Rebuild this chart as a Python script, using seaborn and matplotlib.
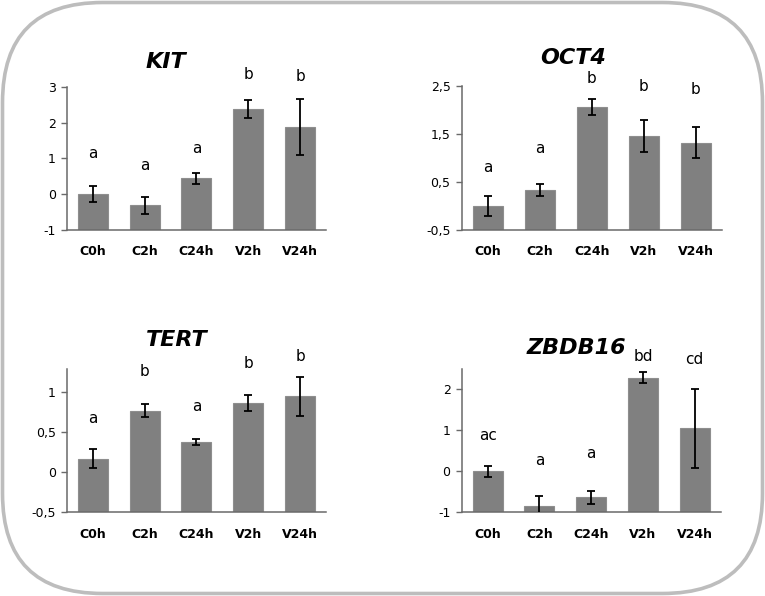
import matplotlib
matplotlib.use("Agg")
import matplotlib.pyplot as plt
import seaborn as sns
import pandas as pd
import numpy as np
from matplotlib.patches import FancyBboxPatch, Rectangle

sns.set_theme(style="white")
plt.rcParams['font.family'] = ['DejaVu Sans']

categories = ["C0h", "C2h", "C24h", "V2h", "V24h"]

kit_values = [0.0, -0.31, 0.44, 2.37, 1.88]
kit_errors = [0.23, 0.23, 0.16, 0.25, 0.78]
kit_letters = ["a", "a", "a", "b", "b"]
kit_letter_y = [1.15, 0.80, 1.28, 3.35, 3.28]

oct4_values = [0.0, 0.33, 2.06, 1.46, 1.32]
oct4_errors = [0.20, 0.12, 0.16, 0.33, 0.32]
oct4_letters = ["a", "a", "b", "b", "b"]
oct4_letter_y = [0.81, 1.20, 2.66, 2.50, 2.42]

tert_values = [0.17, 0.77, 0.38, 0.87, 0.95]
tert_errors = [0.12, 0.08, 0.04, 0.10, 0.24]
tert_letters = ["a", "b", "a", "b", "b"]
tert_letter_y = [0.67, 1.26, 0.82, 1.36, 1.45]

zbdb_values = [0.0, -0.84, -0.63, 2.28, 1.04]
zbdb_errors = [0.13, 0.24, 0.16, 0.13, 0.97]
zbdb_letters = ["ac", "a", "a", "bd", "cd"]
zbdb_letter_y = [0.86, 0.26, 0.42, 2.80, 2.73]

panels = [
    dict(title="KIT", vals=kit_values, errs=kit_errors, letters=kit_letters, ly=kit_letter_y,
         ylim=(-1, 3), ticks=[-1, 0, 1, 2, 3], labels=["-1", "0", "1", "2", "3"],
         rect=[0.0876, 0.614, 0.3384, 0.2405], tpos=(0.2166, 0.8965)),
    dict(title="OCT4", vals=oct4_values, errs=oct4_errors, letters=oct4_letters, ly=oct4_letter_y,
         ylim=(-0.5, 2.5), ticks=[-0.5, 0.5, 1.5, 2.5], labels=["-0,5", "0,5", "1,5", "2,5"],
         rect=[0.6035, 0.614, 0.3399, 0.2417], tpos=(0.749, 0.902)),
    dict(title="TERT", vals=tert_values, errs=tert_errors, letters=tert_letters, ly=tert_letter_y,
         ylim=(-0.5, 1.29), ticks=[-0.5, 0, 0.5, 1], labels=["-0,5", "0", "0,5", "1"],
         rect=[0.0876, 0.1404, 0.3384, 0.24], tpos=(0.231, 0.4295)),
    dict(title="ZBDB16", vals=zbdb_values, errs=zbdb_errors, letters=zbdb_letters, ly=zbdb_letter_y,
         ylim=(-1, 2.48), ticks=[-1, 0, 1, 2], labels=["-1", "0", "1", "2"],
         rect=[0.6035, 0.1404, 0.3385, 0.24], tpos=(0.7539, 0.4156)),
]

fig = plt.figure(figsize=(7.65, 5.96), dpi=100)
fig.patch.set_facecolor("white")

border = FancyBboxPatch((0.025, 0.025), 7.60, 5.91,
                        boxstyle="round,pad=0,rounding_size=1.0",
                        transform=fig.dpi_scale_trans, facecolor="none",
                        edgecolor="#bdbdbd", linewidth=2.6, zorder=-1)
fig.patches.append(border)

axis_color = "#6a6a6a"
for p in panels:
    ax = fig.add_axes(p["rect"])
    ax.set_facecolor("none")
    df = pd.DataFrame({"cat": categories, "val": p["vals"]})
    sns.barplot(data=df, x="cat", y="val", order=categories, color="#808080",
                saturation=1, width=0.58, edgecolor="#8e8e8e", linewidth=0.8,
                errorbar=None, ax=ax, zorder=2)
    # Excel style: bars rise from the bottom of the value axis
    ymin = p["ylim"][0]
    for bar in ax.patches:
        if isinstance(bar, Rectangle):
            top = bar.get_y() + bar.get_height()
            bar.set_y(ymin)
            bar.set_height(top - ymin)
    xpos = np.arange(len(categories))
    ax.errorbar(xpos, p["vals"], yerr=p["errs"], fmt="none", ecolor="black",
                elinewidth=1.3, capsize=2.8, capthick=1.3, zorder=3, clip_on=True)
    for x, t, y in zip(xpos, p["letters"], p["ly"]):
        ax.text(x, y, t, ha="center", va="center", fontsize=11, color="black", clip_on=False)
    ax.set_xlim(-0.5, 4.5)
    ax.set_ylim(*p["ylim"])
    ax.set_yticks(p["ticks"])
    ax.set_yticklabels(p["labels"], fontsize=9, color="black")
    ax.set_xticks(xpos)
    ax.set_xticklabels(categories, fontsize=9, fontweight="bold", color="black")
    ax.set_xticks(np.arange(-0.5, 5.0, 1.0), minor=True)
    ax.tick_params(axis="x", which="major", length=0, pad=11)
    ax.tick_params(axis="x", which="minor", length=4, width=1.0, color=axis_color, direction="out")
    ax.tick_params(axis="y", which="major", length=4, width=1.0, color=axis_color,
                   direction="out", left=True, pad=4)
    ax.set_xlabel("")
    ax.set_ylabel("")
    for s in ["top", "right"]:
        ax.spines[s].set_visible(False)
    for s in ["left", "bottom"]:
        ax.spines[s].set_color(axis_color)
        ax.spines[s].set_linewidth(1.1)
    fig.text(p["tpos"][0], p["tpos"][1], p["title"], ha="center", va="center",
             fontsize=16, fontweight="bold", fontstyle="italic", color="black")

fig.savefig("out.png", dpi=100, facecolor="white")
